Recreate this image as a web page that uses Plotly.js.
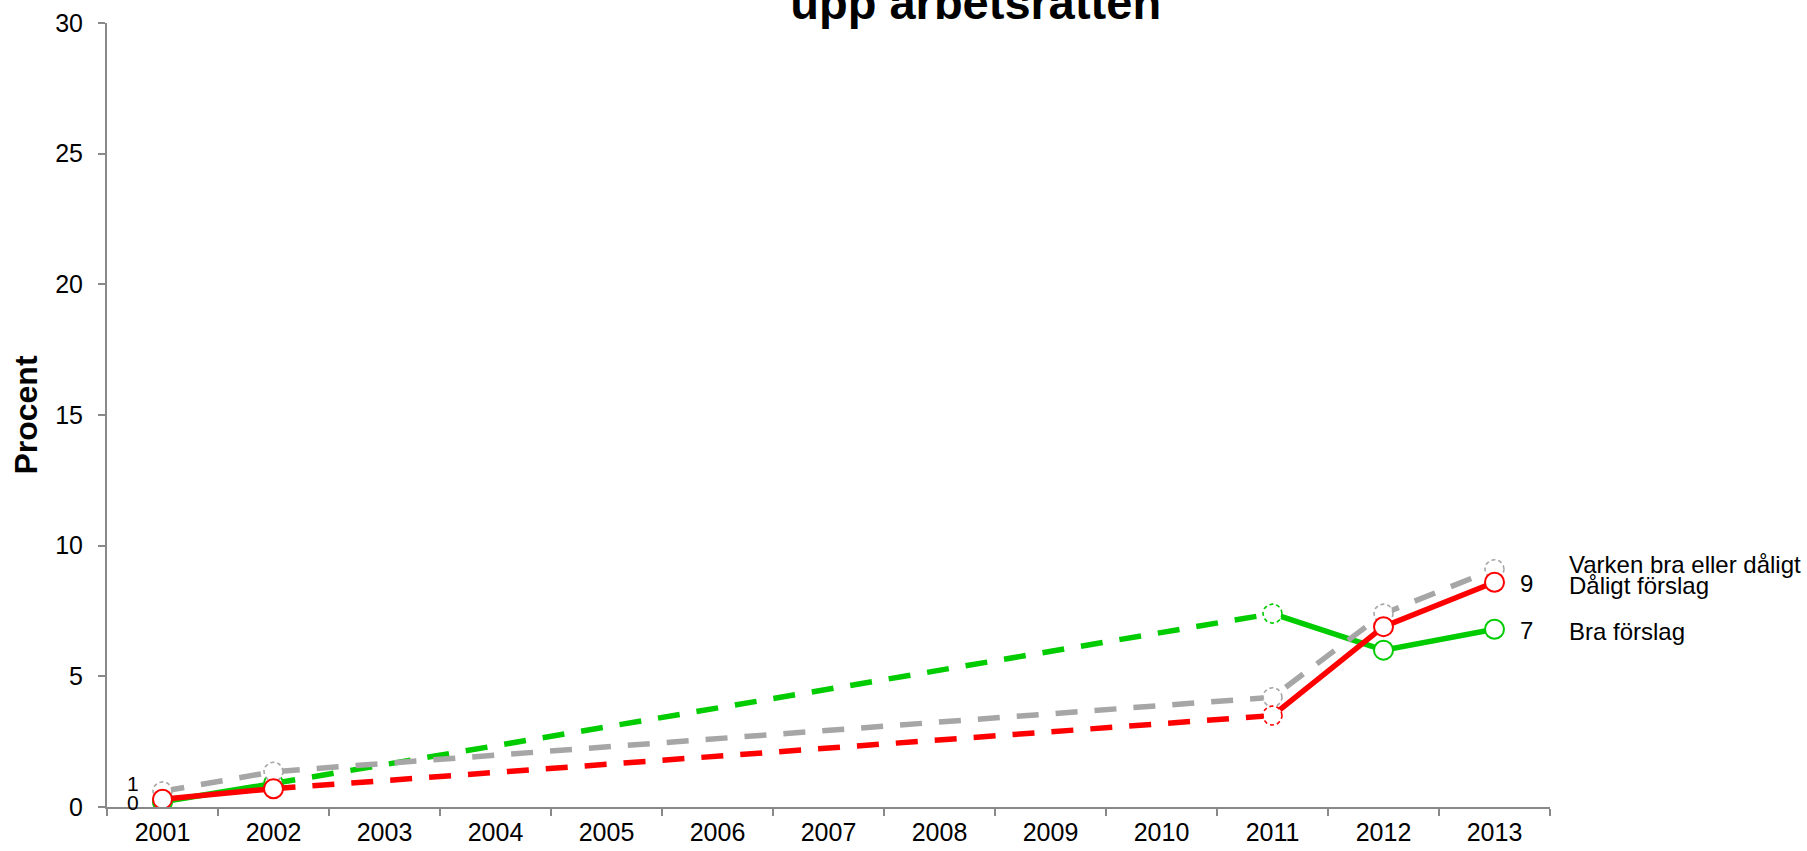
<!DOCTYPE html>
<html><head><meta charset="utf-8">
<script src="https://cdn.plot.ly/plotly-3.0.1.min.js"></script>
<style>html,body{margin:0;padding:0;background:#fff}</style>
</head><body><div id="chart" style="width:1807px;height:851px"></div>
<script>
// ---- data ----
const years = ['2001','2002','2003','2004','2005','2006','2007','2008','2009','2010','2011','2012','2013'];
const braForslag    = [0.2, 0.9, null, null, null, null, null, null, null, null, 7.4, 6.0, 6.8];
const daligtForslag = [0.3, 0.7, null, null, null, null, null, null, null, null, 3.5, 6.9, 8.6];
const varkenBraEllerDaligt = [0.6, 1.35, null, null, null, null, null, null, null, null, 4.2, 7.4, 9.1];
const seriesNames = ['Bra förslag', 'Dåligt förslag', 'Varken bra eller dåligt'];
const titleText = 'upp arbetsrätten';
const yTitleText = 'Procent';
const yTickVals = [0, 5, 10, 15, 20, 25, 30];

// ---- layout constants ----
const W = 1807, H = 851;
const M = {l: 107, r: 257, t: 23, b: 44};
const Y_MAX = 30;
const pxPerX = (W - M.l - M.r) / years.length;
const pxPerY = (H - M.t - M.b) / Y_MAX;
const FONT = 'Liberation Sans, Arial, sans-serif';
const AXIS = '#898989';
const DASH = '22px,17px';
const LW = 5.5;
const idx = years.map((_, i) => i);

function circleTrace(xi, yv, color) {
  const r = 9.5, xs = [], ys = [];
  for (let k = 0; k <= 48; k++) {
    const a = 2 * Math.PI * k / 48;
    xs.push(xi + r * Math.cos(a) / pxPerX);
    ys.push(yv + r * Math.sin(a) / pxPerY);
  }
  return {x: xs, y: ys, type: 'scatter', mode: 'lines', fill: 'toself', fillcolor: '#ffffff',
          line: {color: color, width: 1.6, dash: '4px,3px'}, hoverinfo: 'skip', showlegend: false};
}

function seriesTraces(vals, color, allDashed) {
  const out = [];
  const pts = idx.filter(i => vals[i] !== null);
  // points that start after a gap are drawn dashed (segment + marker)
  const dashedPts = allDashed ? pts.slice() : pts.filter((i, k) => k > 0 && i - pts[k - 1] > 1);
  if (allDashed) {
    out.push({x: pts, y: pts.map(i => vals[i]), type: 'scatter', mode: 'lines',
              line: {color: color, width: LW, dash: DASH}, hoverinfo: 'skip', showlegend: false});
  } else {
    out.push({x: idx, y: vals, type: 'scatter', mode: 'lines', connectgaps: false,
              line: {color: color, width: LW}, hoverinfo: 'skip', showlegend: false});
    dashedPts.forEach(i => {
      const prev = pts[pts.indexOf(i) - 1];
      out.push({x: [prev, i], y: [vals[prev], vals[i]], type: 'scatter', mode: 'lines',
                line: {color: color, width: LW, dash: DASH}, hoverinfo: 'skip', showlegend: false});
    });
  }
  const solidPts = pts.filter(i => dashedPts.indexOf(i) < 0);
  if (solidPts.length) {
    out.push({x: solidPts, y: solidPts.map(i => vals[i]), type: 'scatter', mode: 'markers',
              marker: {symbol: 'circle', size: 19, color: '#ffffff', line: {color: color, width: 2}},
              hoverinfo: 'skip', showlegend: false});
  }
  dashedPts.forEach(i => out.push(circleTrace(i, vals[i], color)));
  return out;
}

const GREEN = '#00CC00', RED = '#FF0000', GRAY = '#A6A6A6';
const data = [].concat(
  seriesTraces(braForslag, GREEN, false),
  seriesTraces(varkenBraEllerDaligt, GRAY, true),
  seriesTraces(daligtForslag, RED, false)
);

const last = years.length - 1;
function label(xi, v, xshift, yshift, anchor, size, text) {
  return {x: xi, y: v, xref: 'x', yref: 'y', text: text, showarrow: false,
          xanchor: anchor, yanchor: 'middle', xshift: xshift, yshift: yshift,
          font: {family: FONT, size: size, color: '#000'}};
}
const annotations = [
  label(0, varkenBraEllerDaligt[0], -22, 8, 'right', 21, String(Math.round(varkenBraEllerDaligt[0]))),
  label(0, daligtForslag[0], -22, -3, 'right', 21, String(Math.round(daligtForslag[0]))),
  label(last, daligtForslag[last], 23, -1.5, 'left', 24, String(Math.round(daligtForslag[last]))),
  label(last, braForslag[last], 23, -1, 'left', 24, String(Math.round(braForslag[last]))),
  label(last, varkenBraEllerDaligt[last], 72, 5, 'left', 24, seriesNames[2]),
  label(last, daligtForslag[last], 72, -3, 'left', 24, seriesNames[1]),
  label(last, braForslag[last], 72, -2, 'left', 24, seriesNames[0])
];

const layout = {
  width: W, height: H,
  margin: M,
  paper_bgcolor: '#ffffff', plot_bgcolor: '#ffffff',
  font: {family: FONT, color: '#000'},
  showlegend: false,
  title: {text: titleText, x: 975.7 / W, xref: 'container', xanchor: 'center',
          y: 1 - 3 / H, yref: 'container', yanchor: 'middle',
          font: {family: FONT, size: 47, weight: 'bold', color: '#000'}},
  xaxis: {type: 'linear', range: [-0.5, years.length - 0.5], tickvals: idx, ticktext: years,
          ticks: '', showline: true, linecolor: AXIS, linewidth: 2, showgrid: false, zeroline: false,
          tickfont: {family: FONT, size: 25, color: '#000'}, ticklabelstandoff: 2,
          minor: {tick0: -0.5, dtick: 1, ticks: 'outside', ticklen: 7, tickwidth: 2, tickcolor: AXIS, showgrid: false},
          fixedrange: true},
  yaxis: {range: [0, Y_MAX], tickvals: yTickVals, ticktext: yTickVals.map(String),
          ticks: 'outside', ticklen: 7, tickwidth: 2, tickcolor: AXIS,
          showline: true, linecolor: AXIS, linewidth: 2, showgrid: false, zeroline: false,
          tickfont: {family: FONT, size: 25, color: '#000'}, ticklabelstandoff: 10,
          title: {text: yTitleText, standoff: 8, font: {family: FONT, size: 32, weight: 'bold', color: '#000'}},
          automargin: false, fixedrange: true},
  annotations: annotations
};

Plotly.newPlot('chart', data, layout, {staticPlot: true, displayModeBar: false});
</script>
</body></html>
